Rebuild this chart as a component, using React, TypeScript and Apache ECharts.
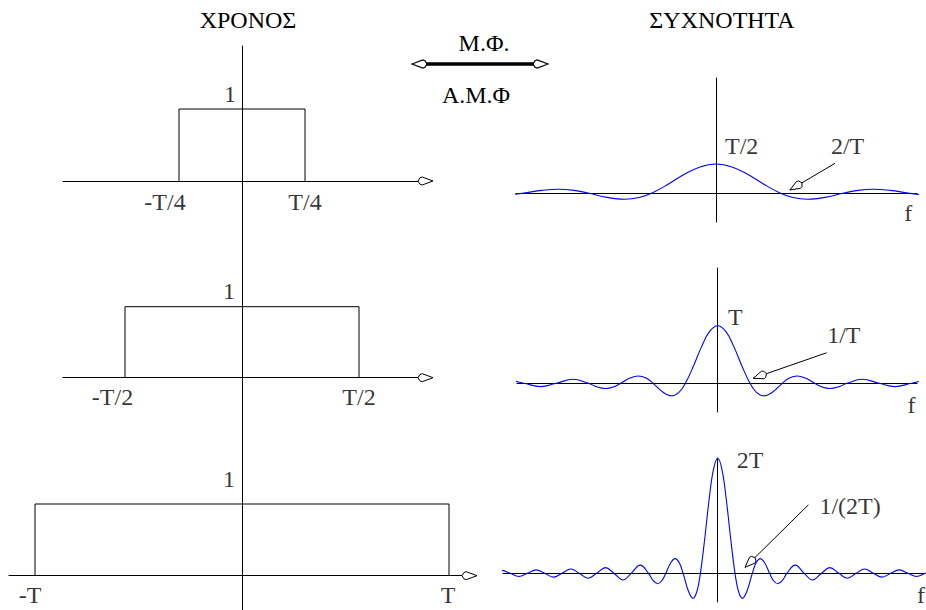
import React, { useEffect, useRef } from "react";
import * as echarts from "echarts";

// ---------------- data ----------------
const titleTime = "ΧΡΟΝΟΣ";
const titleFreq = "ΣΥΧΝΟΤΗΤΑ";
const transformForward = "Μ.Φ.";
const transformInverse = "Α.Μ.Φ";

// rectangular pulses (time domain), half widths in units of T
const pulseHalfWidths = [0.25, 0.5, 1];
const pulseHeight = 1;
const pulseHeightLabel = "1";
const pulseEdgeLabels = [
  ["-T/4", "T/4"],
  ["-T/2", "T/2"],
  ["-T", "T"],
];

// spectra (frequency domain): peak in units of T, first zero in units of 1/T
const spectrumPeaks = [0.5, 1, 2];
const spectrumFirstZeros = [2, 1, 0.5];
const spectrumPeakLabels = ["T/2", "T", "2T"];
const spectrumZeroLabels = ["2/T", "1/T", "1/(2T)"];
const freqAxisName = "f";

// normalised sinc shape (u: multiples of first zero, v: fraction of peak)
const sincU = [0, 0.25, 0.5, 0.75, 1, 1.2, 1.43, 1.7, 2, 2.22, 2.46, 2.72, 3, 3.23, 3.47, 3.73, 4, 4.48, 5, 5.48, 6, 6.48, 7, 7.49, 8, 8.49, 9, 9.49, 10, 10.49, 11, 11.49, 12, 12.49, 13];
const sincV = [1, 0.9, 0.637, 0.3, 0, -0.156, -0.217, -0.152, 0, 0.091, 0.128, 0.09, 0, -0.065, -0.091, -0.064, 0, 0.071, 0, -0.058, 0, 0.049, 0, -0.0425, 0, 0.0375, 0, -0.0335, 0, 0.03, 0, -0.0277, 0, 0.0255, 0];

// ---------------- layout ----------------
const FONT = "Liberation Serif, Times New Roman, Times, serif";
const FS = 24;

type Box = { l: number; r: number; t: number; b: number };
function frame(origin: [number, number], ux: number, uy: number, box: Box) {
  return {
    grid: { left: box.l, top: box.t, width: box.r - box.l, height: box.b - box.t, containLabel: false },
    xMin: (box.l - origin[0]) / ux,
    xMax: (box.r - origin[0]) / ux,
    yMin: (origin[1] - box.b) / uy,
    yMax: (origin[1] - box.t) / uy,
  };
}

const timeFrames = [
  frame([242, 181], 252, 72, { l: 63, r: 418, t: 46, b: 276 }),
  frame([242, 377.7], 234, 71, { l: 63, r: 418, t: 276, b: 474 }),
  frame([242, 575.7], 207, 71.7, { l: 9, r: 462, t: 474, b: 610 }),
];
const freqFrames = [
  frame([716, 193], 32, 58, { l: 516, r: 917, t: 78, b: 222 }),
  frame([717.7, 383.3], 32.3, 57.6, { l: 517, r: 917, t: 268, b: 412 }),
  frame([717.7, 573.3], 34.6, 57.5, { l: 503, r: 925, t: 458, b: 602 }),
];

const timeLabelOffsets = [
  { one: [-6, -15], left: [-14, 21], right: [0, 21] },
  { one: [-7, -16], left: [-12.5, 19.5], right: [0, 19.5] },
  { one: [-7, -25], left: [-5, 19.5], right: [-1, 19.5] },
];
const freqArrowPos = [
  [3.72, 0.512, 2.31, 0.052],
  [3.37, 0.53, 1.1, 0.087],
  [2.62, 1.19, 0.79, 0.104],
];
const freqLabelOffsets = [
  { peak: [9, -18], zero: [12.5, -17], f: [-8.7, 20] },
  { peak: [10.3, -9], zero: [17.3, -17.7], f: [-5.5, 21.7] },
  { peak: [19, 2], zero: [41.7, 1], f: [-4, 21.7] },
];

function kite(tip: number[], ang: number, L = 15, W = 4) {
  const c = Math.cos(ang), s = Math.sin(ang);
  const pts = [[0, 0], [-0.72 * L, W], [-0.87 * L, 0.8 * W], [-L, 0], [-0.87 * L, -0.8 * W], [-0.72 * L, -W]];
  return pts.map(([u, v]) => [tip[0] + u * c - v * s, tip[1] + u * s + v * c]);
}

const textStyle = { fontFamily: FONT, fontSize: FS, color: "#000" };

function lab(value: number[], text: string, offset: number[], align = "center") {
  return {
    value,
    label: { show: true, formatter: text, position: "inside", align, verticalAlign: "middle", offset, ...textStyle },
  };
}

function buildOption() {
  const frames = [...timeFrames, ...freqFrames];
  const axisCommon = {
    type: "value",
    axisTick: { show: false },
    axisLabel: { show: false },
    splitLine: { show: false },
    axisLine: { show: true, onZero: true, lineStyle: { color: "#000", width: 1 } },
  };
  const xAxis = frames.map((f, i) => ({ ...axisCommon, gridIndex: i, min: f.xMin, max: f.xMax }));
  const yAxis = frames.map((f, i) => ({ ...axisCommon, gridIndex: i, min: f.yMin, max: f.yMax }));

  const series: any[] = [];

  // time domain
  pulseHalfWidths.forEach((a, i) => {
    series.push({
      type: "line",
      xAxisIndex: i,
      yAxisIndex: i,
      data: [[-a, 0], [-a, pulseHeight], [a, pulseHeight], [a, 0]],
      symbol: "none",
      clip: false,
      silent: true,
      lineStyle: { color: "#000", width: 1 },
    });
    const o = timeLabelOffsets[i];
    series.push({
      type: "scatter",
      xAxisIndex: i,
      yAxisIndex: i,
      symbolSize: 1,
      clip: false,
      silent: true,
      itemStyle: { color: "rgba(0,0,0,0)" },
      data: [
        lab([0, pulseHeight], pulseHeightLabel, o.one, "right"),
        lab([-a, 0], pulseEdgeLabels[i][0], o.left),
        lab([a, 0], pulseEdgeLabels[i][1], o.right),
      ],
    });
    series.push({
      type: "custom",
      xAxisIndex: i,
      yAxisIndex: i,
      silent: true,
      clip: false,
      data: [[timeFrames[i].xMax, 0]],
      renderItem: (_p: any, api: any) => {
        const p = api.coord([api.value(0), api.value(1)]);
        return {
          type: "polygon",
          shape: { points: kite([p[0] + 15, p[1]], 0) },
          style: { fill: "#fff", stroke: "#000", lineWidth: 1 },
        };
      },
    });
  });

  // frequency domain
  spectrumPeaks.forEach((pk, k) => {
    const gi = 3 + k;
    const z = spectrumFirstZeros[k];
    const pts: number[][] = [];
    for (let j = sincU.length - 1; j > 0; j--) pts.push([-sincU[j] * z, sincV[j] * pk]);
    for (let j = 0; j < sincU.length; j++) pts.push([sincU[j] * z, sincV[j] * pk]);
    series.push({
      type: "line",
      xAxisIndex: gi,
      yAxisIndex: gi,
      data: pts,
      symbol: "none",
      smooth: 0.4,
      clip: true,
      silent: true,
      lineStyle: { color: "#0000ff", width: 1.1 },
    });
    const ar = freqArrowPos[k];
    series.push({
      type: "custom",
      xAxisIndex: gi,
      yAxisIndex: gi,
      silent: true,
      clip: false,
      data: [ar],
      renderItem: (_p: any, api: any) => {
        const p1 = api.coord([api.value(0), api.value(1)]);
        const p2 = api.coord([api.value(2), api.value(3)]);
        const ang = Math.atan2(p2[1] - p1[1], p2[0] - p1[0]);
        return {
          type: "group",
          children: [
            { type: "line", shape: { x1: p1[0], y1: p1[1], x2: p2[0], y2: p2[1] }, style: { stroke: "#000", lineWidth: 1 } },
            { type: "polygon", shape: { points: kite(p2, ang, 14, 4) }, style: { fill: "#fff", stroke: "#000", lineWidth: 1 } },
          ],
        };
      },
    });
    const o = freqLabelOffsets[k];
    series.push({
      type: "scatter",
      xAxisIndex: gi,
      yAxisIndex: gi,
      symbolSize: 1,
      clip: false,
      silent: true,
      itemStyle: { color: "rgba(0,0,0,0)" },
      data: [
        lab([0, pk], spectrumPeakLabels[k], o.peak, "left"),
        lab([ar[0], ar[1]], spectrumZeroLabels[k], o.zero),
        lab([freqFrames[k].xMax, 0], freqAxisName, o.f),
      ],
    });
  });

  const txt = (text: string, x: number, y: number) => ({
    type: "text",
    x,
    y,
    silent: true,
    style: { text, fontFamily: FONT, fontSize: FS, fill: "#000", align: "center", verticalAlign: "middle" },
  });

  const graphic = [
    txt(titleTime, 248, 20),
    txt(titleFreq, 722, 20),
    txt(transformForward, 484, 43),
    txt(transformInverse, 476, 94.5),
    {
      type: "group",
      silent: true,
      children: [
        { type: "line", shape: { x1: 420, y1: 64, x2: 540, y2: 64 }, style: { stroke: "#000", lineWidth: 3.5 } },
        { type: "polygon", shape: { points: kite([412, 64], Math.PI) }, style: { fill: "#fff", stroke: "#000", lineWidth: 1.2 } },
        { type: "polygon", shape: { points: kite([548, 64], 0) }, style: { fill: "#fff", stroke: "#000", lineWidth: 1.2 } },
      ],
    },
  ];

  return {
    animation: false,
    backgroundColor: "#fff",
    textStyle: { fontFamily: FONT },
    grid: frames.map((f) => f.grid),
    xAxis,
    yAxis,
    series,
    graphic,
  };
}

export default function App() {
  const ref = useRef<HTMLDivElement>(null);
  useEffect(() => {
    document.body.style.margin = "0";
    if (!ref.current) return;
    const chart = echarts.init(ref.current, undefined, { renderer: "svg" });
    chart.setOption(buildOption() as any);
    return () => chart.dispose();
  }, []);
  return <div ref={ref} style={{ width: 926, height: 610 }} />;
}
